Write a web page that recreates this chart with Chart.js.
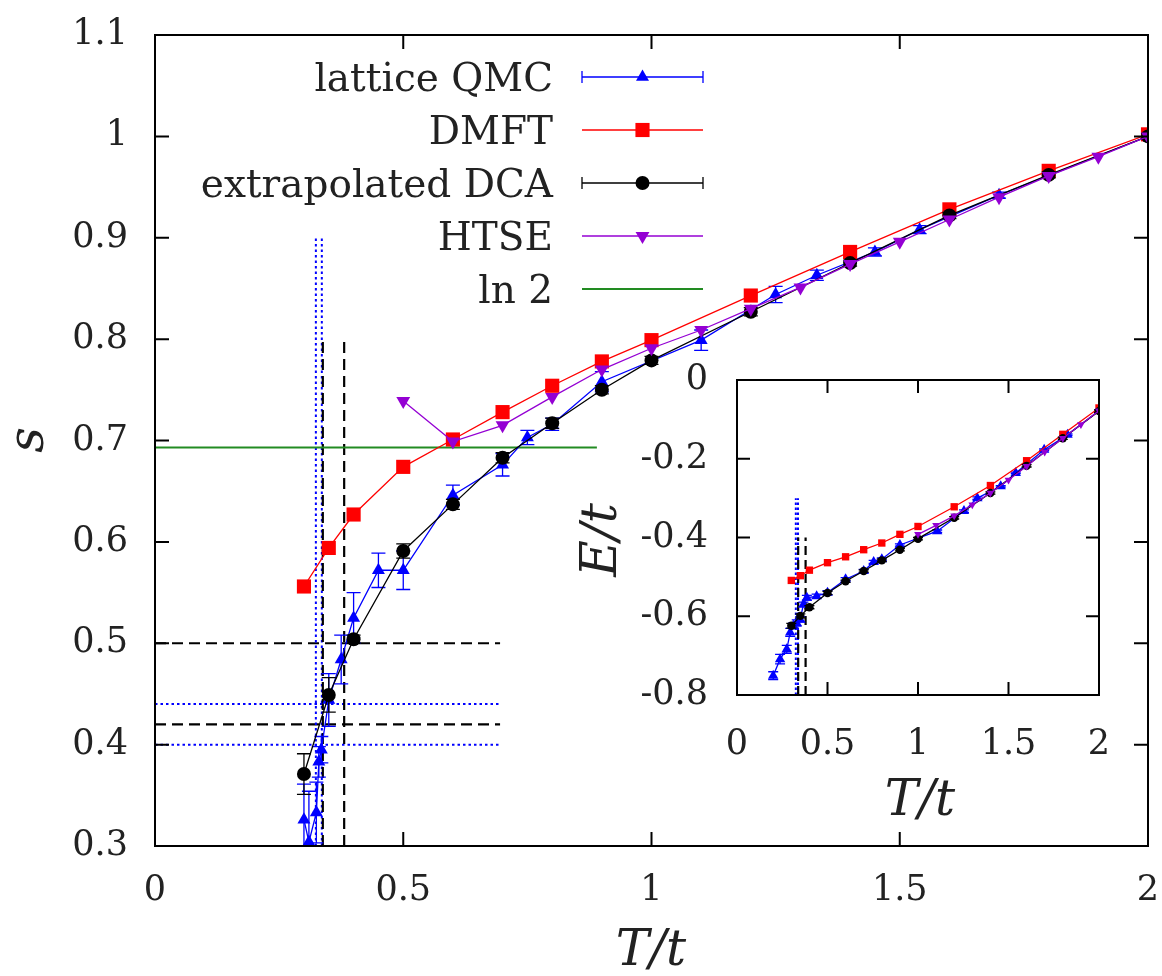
<!DOCTYPE html>
<html>
<head>
<meta charset="utf-8">
<title>Entropy and energy vs T/t</title>
<script src="https://cdn.jsdelivr.net/npm/chart.js@4.4.1/dist/chart.umd.min.js"></script>
<style>
  body { margin: 0; background: #fff; }
  #wrap { position: relative; width: 1162px; height: 976px; }
  #main { position: absolute; left: 0; top: 0; }
  #inset { position: absolute; left: 560px; top: 350px; }
</style>
</head>
<body>
<div id="wrap">
  <canvas id="main" width="1162" height="976"></canvas>
  <canvas id="inset" width="590" height="480"></canvas>
</div>
<script>
// entropy per site s(T/t)
const qmcT   = [0.30, 0.31, 0.325, 0.33, 0.335, 0.35, 0.375, 0.40, 0.45, 0.50, 0.60, 0.70, 0.75, 0.80, 0.90, 1.10, 1.25, 1.333, 1.45, 1.54, 1.70, 2.0];
const qmcS   = [0.326, 0.304, 0.333, 0.383, 0.395, 0.444, 0.484, 0.525, 0.572, 0.572, 0.646, 0.676, 0.703, 0.716, 0.758, 0.799, 0.844, 0.863, 0.886, 0.908, 0.942, 1.0];
const qmcErr = [0.035, 0.05, 0.03, 0.015, 0.013, 0.026, 0.024, 0.025, 0.017, 0.019, 0.01, 0.011, 0.007, 0.006, 0.01, 0.01, 0.008, 0.005, 0.004, 0.004, 0.003, 0.002];

const dmftT = [0.3, 0.35, 0.4, 0.5, 0.6, 0.7, 0.8, 0.9, 1.0, 1.2, 1.4, 1.6, 1.8, 2.0];
const dmftS = [0.556, 0.594, 0.627, 0.674, 0.701, 0.728, 0.754, 0.778, 0.799, 0.843, 0.886, 0.928, 0.966, 1.002];

const dcaT   = [0.3, 0.35, 0.4, 0.5, 0.6, 0.7, 0.8, 0.9, 1.0, 1.2, 1.4, 1.6, 1.8, 2.0];
const dcaS   = [0.371, 0.449, 0.504, 0.591, 0.637, 0.683, 0.717, 0.750, 0.779, 0.827, 0.875, 0.922, 0.962, 1.0];
const dcaErr = [0.02, 0.017, 0.004, 0.007, 0.005, 0.005, 0.005, 0.004, 0.004, 0.004, 0.003, 0.003, 0.003, 0.003];

const htseT = [0.5, 0.6, 0.7, 0.8, 0.9, 1.0, 1.1, 1.2, 1.3, 1.4, 1.5, 1.6, 1.7, 1.8, 1.9, 2.0];
const htseS = [0.739, 0.699, 0.715, 0.743, 0.770, 0.791, 0.809, 0.830, 0.851, 0.874, 0.896, 0.918, 0.940, 0.961, 0.980, 1.0];

const ln2 = Math.log(2);
const ln2EndT = 0.89;

// Neel temperature / critical entropy guides
const tnQmc = [0.324, 0.336];   // blue dotted verticals
const tnDca = [0.338, 0.381];   // black dashed verticals
const scQmc = [0.44, 0.40];     // blue dotted horizontals
const scDca = [0.50, 0.42];     // black dashed horizontals
const guideEndT = 0.695;
const qmcGuideTop = 0.9, dcaGuideTop = 0.8;

// energy per site E/t (inset)
const qmcTE   = [0.2, 0.238, 0.275, 0.294, 0.312, 0.33, 0.349, 0.367, 0.386, 0.44, 0.5, 0.6, 0.7, 0.755, 0.8, 0.9, 1.106, 1.254, 1.328, 1.457, 1.54, 1.697, 1.826, 2.0];
const qmcE    = [-0.751, -0.709, -0.684, -0.641, -0.624, -0.617, -0.608, -0.570, -0.553, -0.549, -0.540, -0.506, -0.485, -0.462, -0.455, -0.419, -0.384, -0.333, -0.300, -0.270, -0.236, -0.177, -0.139, -0.078];
const qmcEErr = [0.01, 0.012, 0.01, 0.01, 0.008, 0.008, 0.007, 0.006, 0.006, 0.005, 0.005, 0.004, 0.004, 0.004, 0.003, 0.003, 0.003, 0.003, 0.003, 0.002, 0.002, 0.002, 0.002, 0.002];
const dmftE   = [-0.509, -0.497, -0.483, -0.464, -0.449, -0.431, -0.414, -0.392, -0.372, -0.322, -0.268, -0.205, -0.138, -0.071];
const dcaE    = [-0.624, -0.599, -0.577, -0.541, -0.511, -0.485, -0.458, -0.431, -0.403, -0.350, -0.287, -0.218, -0.148, -0.079];
const dcaEErr = [0.006, 0.005, 0.004, 0.004, 0.003, 0.003, 0.003, 0.003, 0.003, 0.003, 0.003, 0.003, 0.003, 0.003];
const htseTE  = [1.0, 1.1, 1.2, 1.3, 1.4, 1.5, 1.6, 1.7, 1.8, 1.9, 2.0];
const htseE   = [-0.392, -0.369, -0.345, -0.317, -0.287, -0.254, -0.219, -0.183, -0.148, -0.113, -0.078];
const tnQmcE = [0.325, 0.337];
const tnDcaE = [0.338, 0.379];

// tick labels
const tTicks  = [0, 0.5, 1, 1.5, 2];
const sTicks  = [0.3, 0.4, 0.5, 0.6, 0.7, 0.8, 0.9, 1, 1.1];
const eTicks  = [-0.8, -0.6, -0.4, -0.2, 0];

const BLUE = "#0000ff", RED = "#ff0000", BLACK = "#000000", PURPLE = "#9400d3", GREEN = "#228b22";
const TEXT = "#222222";

// DejaVu Serif runs wider than Computer Modern, so sizes are scaled down a bit
const SERIF = { family: "'DejaVu Serif', serif", k: 0.84 };
function fs(px) { return Math.round(px * SERIF.k); }

function pts(xs, ys) {
  return xs.map(function (x, i) { return { x: x, y: ys[i] }; });
}

function series(label, xs, ys, color, style, radius, extra) {
  return Object.assign({
    label: label,
    data: pts(xs, ys),
    showLine: true,
    borderColor: color,
    backgroundColor: color,
    pointBackgroundColor: color,
    pointBorderColor: color,
    pointBorderWidth: 0,
    borderWidth: 1.3,
    pointStyle: style,
    pointRadius: radius,
    pointHoverRadius: radius
  }, extra || {});
}

function segment(x0, y0, x1, y1, color, dash, width) {
  return {
    label: "",
    data: [{ x: x0, y: y0 }, { x: x1, y: y1 }],
    showLine: true,
    borderColor: color,
    borderWidth: width,
    borderDash: dash,
    pointRadius: 0,
    pointHoverRadius: 0
  };
}

// vertical error bars with caps, drawn right after their own dataset
const errorBars = {
  id: "errorBars",
  afterDatasetDraw(chart, args) {
    const ds = chart.data.datasets[args.index];
    if (!ds.errors) return;
    const ctx = chart.ctx, a = chart.chartArea, ys = args.meta.yScale;
    const cap = ds.capHalf || 7;
    ctx.save();
    ctx.beginPath();
    ctx.rect(a.left, a.top, a.right - a.left, a.bottom - a.top);
    ctx.clip();
    ctx.strokeStyle = ds.borderColor;
    ctx.lineWidth = 1.3;
    args.meta.data.forEach(function (pt, i) {
      const e = ds.errors[i];
      if (!e) return;
      const v = ds.data[i].y;
      const y1 = ys.getPixelForValue(v - e), y2 = ys.getPixelForValue(v + e);
      ctx.beginPath();
      ctx.moveTo(pt.x, y1); ctx.lineTo(pt.x, y2);
      ctx.moveTo(pt.x - cap, y1); ctx.lineTo(pt.x + cap, y1);
      ctx.moveTo(pt.x - cap, y2); ctx.lineTo(pt.x + cap, y2);
      ctx.stroke();
    });
    ctx.restore();
  }
};

// box border with inward tick marks on all four sides
const frame = {
  id: "frame",
  afterDraw(chart, args, opts) {
    const ctx = chart.ctx, a = chart.chartArea;
    const x = chart.scales.x, y = chart.scales.y;
    const len = opts.tick || 14;
    ctx.save();
    ctx.strokeStyle = BLACK;
    ctx.lineWidth = 2;
    ctx.beginPath();
    x.ticks.forEach(function (t) {
      const px = x.getPixelForValue(t.value);
      ctx.moveTo(px, a.bottom); ctx.lineTo(px, a.bottom - len);
      ctx.moveTo(px, a.top); ctx.lineTo(px, a.top + len);
    });
    y.ticks.forEach(function (t) {
      const py = y.getPixelForValue(t.value);
      ctx.moveTo(a.left, py); ctx.lineTo(a.left + len, py);
      ctx.moveTo(a.right, py); ctx.lineTo(a.right - len, py);
    });
    ctx.stroke();
    ctx.strokeRect(a.left, a.top, a.right - a.left, a.bottom - a.top);
    ctx.restore();
  }
};

// axis titles in math italic
const axisTitles = {
  id: "axisTitles",
  afterDraw(chart, args, opts) {
    const ctx = chart.ctx;
    ctx.save();
    ctx.fillStyle = TEXT;
    ctx.font = "italic " + fs(opts.size) + "px " + SERIF.family;
    ctx.textAlign = "center";
    ctx.textBaseline = "middle";
    ctx.fillText(opts.x.text, opts.x.at[0], opts.x.at[1]);
    ctx.translate(opts.y.at[0], opts.y.at[1]);
    ctx.rotate(-Math.PI / 2);
    ctx.fillText(opts.y.text, 0, 0);
    ctx.restore();
  }
};

// key: label right-aligned, sample line with marker to the right
const keyBox = {
  id: "keyBox",
  afterDraw(chart, args, opts) {
    const ctx = chart.ctx;
    ctx.save();
    ctx.font = fs(opts.size) + "px " + SERIF.family;
    ctx.textAlign = "right";
    ctx.textBaseline = "alphabetic";
    opts.order.forEach(function (name, row) {
      const ds = chart.data.datasets.find(function (d) { return d.label === name; });
      const yRow = opts.top + row * opts.step;
      ctx.fillStyle = TEXT;
      ctx.fillText(name, opts.textRight, yRow + 14);
      ctx.strokeStyle = ds.borderColor;
      ctx.lineWidth = ds.borderWidth;
      ctx.beginPath();
      ctx.moveTo(opts.x0, yRow); ctx.lineTo(opts.x1, yRow);
      if (ds.errors) {
        ctx.moveTo(opts.x0, yRow - 6); ctx.lineTo(opts.x0, yRow + 6);
        ctx.moveTo(opts.x1, yRow - 6); ctx.lineTo(opts.x1, yRow + 6);
      }
      ctx.stroke();
      if (ds.pointRadius > 0) {
        ctx.fillStyle = ds.backgroundColor;
        Chart.helpers.drawPoint(ctx, {
          pointStyle: ds.pointStyle, radius: ds.pointRadius,
          rotation: ds.rotation || 0, borderWidth: 0
        }, (opts.x0 + opts.x1) / 2, yRow);
      }
    });
    ctx.restore();
  }
};

// fixed-size axis boxes; label overhang is not allowed to shrink the plot
function axisOpts(ticks, padding, size) {
  return {
    type: "linear",
    min: ticks[0],
    max: ticks[ticks.length - 1],
    afterBuildTicks: function (s) { s.ticks = ticks.map(function (v) { return { value: v }; }); },
    afterFit: function (s) {
      if (s.isHorizontal()) { s.height = size; } else { s.width = size; }
      s.paddingTop = s.paddingBottom = s.paddingLeft = s.paddingRight = 0;
    },
    grid: { display: false, drawTicks: false },
    border: { display: false },
    ticks: {
      autoSkip: false,
      maxRotation: 0,
      padding: padding,
      color: TEXT,
      font: { family: SERIF.family, size: fs(42) },
      callback: function (v) { return String(+v.toFixed(2)); }
    }
  };
}

// ---- main panel: entropy ----
const mainSets = [
  series("HTSE", htseT, htseS, PURPLE, "triangle", 8, { rotation: 180 }),
  series("extrapolated DCA", dcaT, dcaS, BLACK, "circle", 7, { errors: dcaErr }),
  series("DMFT", dmftT, dmftS, RED, "rect", 10),
  series("lattice QMC", qmcT, qmcS, BLUE, "triangle", 7.5, { errors: qmcErr }),
  series("ln 2", [0, ln2EndT], [ln2, ln2], GREEN, "circle", 0, { borderWidth: 2 })
];
tnDca.forEach(function (t) { mainSets.push(segment(t, 0.3, t, dcaGuideTop, BLACK, [11, 6], 2.2)); });
tnQmc.forEach(function (t) { mainSets.push(segment(t, 0.3, t, qmcGuideTop, BLUE, [2.5, 3], 2)); });
scDca.forEach(function (s) { mainSets.push(segment(0, s, guideEndT, s, BLACK, [11, 6], 2.2)); });
scQmc.forEach(function (s) { mainSets.push(segment(0, s, guideEndT, s, BLUE, [2.5, 3], 2)); });

new Chart(document.getElementById("main"), {
  type: "scatter",
  data: { datasets: mainSets },
  options: {
    responsive: false,
    animation: false,
    events: [],
    layout: { padding: { top: 35, right: 14, left: 0, bottom: 0 } },
    scales: {
      x: axisOpts(tTicks, 24, 130),
      y: axisOpts(sTicks, 27, 155)
    },
    plugins: {
      legend: { display: false },
      tooltip: { enabled: false },
      frame: { tick: 14 },
      axisTitles: { size: 60, x: { text: "T/t", at: [651, 952] }, y: { text: "s", at: [30, 440] } },
      keyBox: {
        size: 47, top: 77, step: 53, textRight: 553, x0: 582, x1: 703,
        order: ["lattice QMC", "DMFT", "extrapolated DCA", "HTSE", "ln 2"]
      }
    }
  },
  plugins: [errorBars, frame, axisTitles, keyBox]
});

// ---- inset: energy ----
const insetSets = [
  series("HTSE", htseTE, htseE, PURPLE, "triangle", 4.5, { rotation: 180 }),
  series("extrapolated DCA", dcaT, dcaE, BLACK, "circle", 4.2, { errors: dcaEErr, capHalf: 5 }),
  series("DMFT", dmftT, dmftE, RED, "rect", 5.2),
  series("lattice QMC", qmcTE, qmcE, BLUE, "triangle", 6, { errors: qmcEErr, capHalf: 5 })
];
tnDcaE.forEach(function (t) { insetSets.push(segment(t, -0.8, t, -0.4, BLACK, [9, 5], 2.2)); });
tnQmcE.forEach(function (t) { insetSets.push(segment(t, -0.8, t, -0.3, BLUE, [2.5, 2.5], 2)); });

new Chart(document.getElementById("inset"), {
  type: "scatter",
  data: { datasets: insetSets },
  options: {
    responsive: false,
    animation: false,
    events: [],
    layout: { padding: { top: 30, right: 51, left: 0, bottom: 0 } },
    scales: {
      x: axisOpts(tTicks, 29, 135),
      y: axisOpts(eTicks, 29, 177)
    },
    plugins: {
      legend: { display: false },
      tooltip: { enabled: false },
      frame: { tick: 13 },
      axisTitles: { size: 60, x: { text: "T/t", at: [360, 452] }, y: { text: "E/t", at: [43, 190] } }
    }
  },
  plugins: [errorBars, frame, axisTitles]
});
</script>
</body>
</html>
